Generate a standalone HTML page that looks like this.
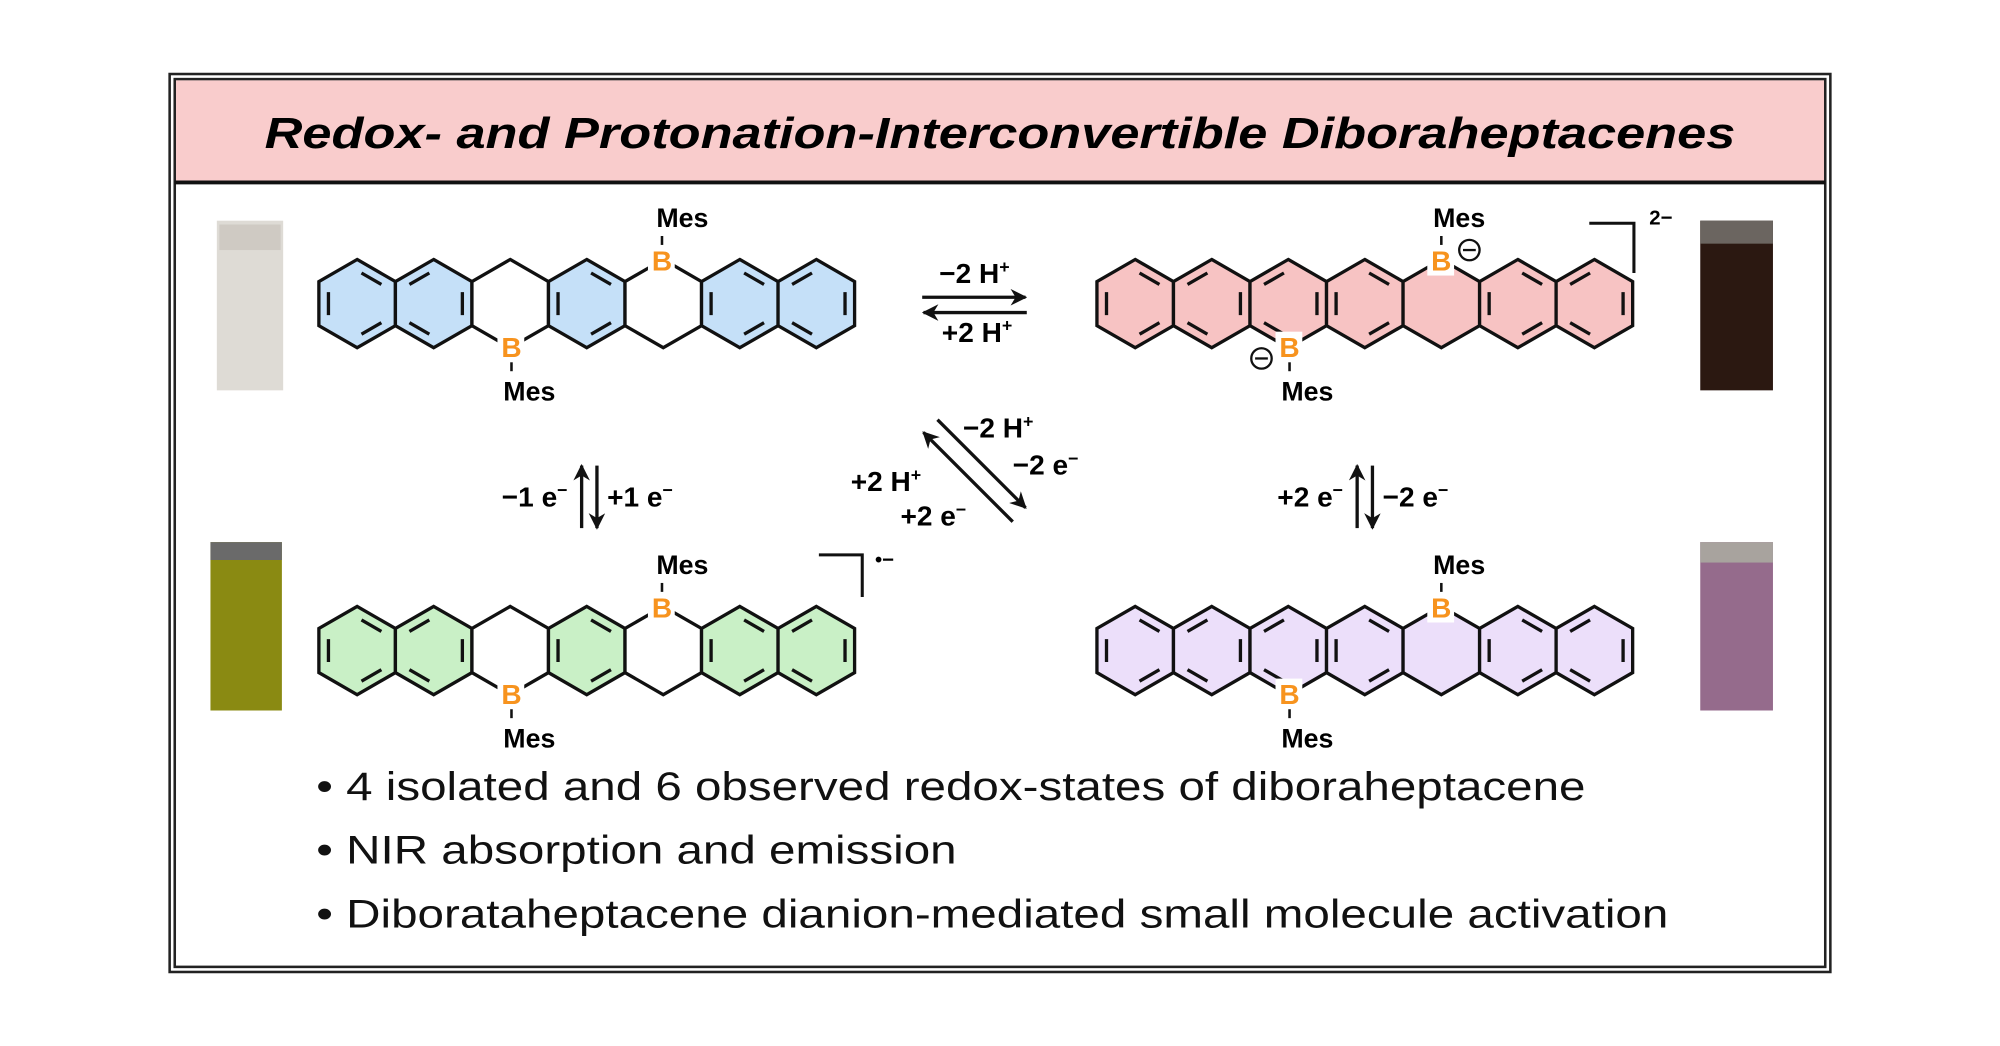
<!DOCTYPE html>
<html><head><meta charset="utf-8"><style>
html,body{margin:0;padding:0;background:#fff;width:2000px;height:1046px;overflow:hidden}
svg{display:block}
text{font-family:"Liberation Sans",Arial,sans-serif}
</style></head><body>
<svg width="2000" height="1046" viewBox="0 0 1568 820" xmlns="http://www.w3.org/2000/svg">
<defs>
<path id="h" d="M0,-34.6 L30,-17.3 L30,17.3 L0,34.6 L-30,17.3 L-30,-17.3Z" stroke="#111" stroke-width="2.6" stroke-linejoin="miter"/>
<path id="d" d="M3.4,-24 L19,-15 M19,15 L3.4,24 M-22.5,-9 L-22.5,9" stroke="#111" stroke-width="2.6" fill="none"/>
<path id="e" d="M-3.4,-24 L-19,-15 M-19,15 L-3.4,24 M22.5,-9 L22.5,9" stroke="#111" stroke-width="2.6" fill="none"/>
<marker id="ah" viewBox="0 0 10 10" refX="9" refY="5" markerWidth="5" markerHeight="5" orient="auto"><path d="M0,0 L10,5 L0,10 L3,5Z" fill="#111"/></marker>
</defs>
<!-- frame -->
<rect x="133" y="58" width="1302" height="704" fill="#fff" stroke="#222" stroke-width="2"/>
<rect x="137" y="62" width="1294" height="696" fill="none" stroke="#222" stroke-width="2"/>
<rect x="138" y="63" width="1292" height="80" fill="#f9cccc"/>
<line x1="137" y1="143" x2="1431" y2="143" stroke="#111" stroke-width="3"/>
<text x="784" y="116" text-anchor="middle" font-size="34" font-weight="bold" font-style="italic" textLength="1153" lengthAdjust="spacingAndGlyphs">Redox- and Protonation-Interconvertible Diboraheptacenes</text>

<!-- vials -->
<rect x="170" y="173" width="52" height="133" fill="#dedbd5"/>
<rect x="172" y="176" width="48" height="20" fill="#cfcac3"/>
<rect x="1333" y="173" width="57" height="133" fill="#2b1811"/>
<rect x="1333" y="173" width="57" height="18" fill="#6b6560"/>
<rect x="165" y="425" width="56" height="132" fill="#8a8a12"/>
<rect x="165" y="425" width="56" height="14" fill="#6a6a6a"/>
<rect x="1333" y="425" width="57" height="132" fill="#956b8c"/>
<rect x="1333" y="425" width="57" height="16" fill="#a8a39e"/>

<!-- blue molecule -->
<g fill="#c5e0f8">
<use href="#h" x="280" y="238"/><use href="#h" x="340" y="238"/><use href="#h" x="400" y="238" fill="#fff"/><use href="#h" x="460" y="238"/><use href="#h" x="520" y="238" fill="#fff"/><use href="#h" x="580" y="238"/><use href="#h" x="640" y="238"/>
</g>
<use href="#d" x="280" y="238"/><use href="#e" x="340" y="238"/><use href="#d" x="460" y="238"/><use href="#d" x="580" y="238"/><use href="#e" x="640" y="238"/>
<!-- green molecule -->
<g fill="#c9f0c6">
<use href="#h" x="280" y="510"/><use href="#h" x="340" y="510"/><use href="#h" x="400" y="510" fill="#fff"/><use href="#h" x="460" y="510"/><use href="#h" x="520" y="510" fill="#fff"/><use href="#h" x="580" y="510"/><use href="#h" x="640" y="510"/>
</g>
<use href="#d" x="280" y="510"/><use href="#e" x="340" y="510"/><use href="#d" x="460" y="510"/><use href="#d" x="580" y="510"/><use href="#e" x="640" y="510"/>
<!-- pink molecule -->
<g fill="#f7c3c3">
<use href="#h" x="890" y="238"/><use href="#h" x="950" y="238"/><use href="#h" x="1010" y="238"/><use href="#h" x="1070" y="238"/><use href="#h" x="1130" y="238"/><use href="#h" x="1190" y="238"/><use href="#h" x="1250" y="238"/>
</g>
<use href="#d" x="890" y="238"/><use href="#e" x="950" y="238"/><use href="#e" x="1010" y="238"/><use href="#d" x="1070" y="238"/><use href="#d" x="1190" y="238"/><use href="#e" x="1250" y="238"/>
<!-- purple molecule -->
<g fill="#ecdffa">
<use href="#h" x="890" y="510"/><use href="#h" x="950" y="510"/><use href="#h" x="1010" y="510"/><use href="#h" x="1070" y="510"/><use href="#h" x="1130" y="510"/><use href="#h" x="1190" y="510"/><use href="#h" x="1250" y="510"/>
</g>
<use href="#d" x="890" y="510"/><use href="#e" x="950" y="510"/><use href="#e" x="1010" y="510"/><use href="#d" x="1070" y="510"/><use href="#d" x="1190" y="510"/><use href="#e" x="1250" y="510"/>

<!-- B atoms and Mes -->
<g font-size="22" font-weight="bold">
<g fill="#f7931e" text-anchor="middle">
<rect x="508" y="192" width="21" height="24" fill="#fff"/><text x="519" y="212">B</text>
<rect x="390" y="260" width="21" height="24" fill="#fff"/><text x="401" y="280">B</text>
<rect x="508" y="464" width="21" height="24" fill="#fff"/><text x="519" y="484">B</text>
<rect x="390" y="532" width="21" height="24" fill="#fff"/><text x="401" y="552">B</text>
<rect x="1119" y="192" width="21" height="24" fill="#fff"/><text x="1130" y="212">B</text>
<rect x="1000" y="260" width="21" height="24" fill="#fff"/><text x="1011" y="280">B</text>
<rect x="1119" y="464" width="21" height="24" fill="#fff"/><text x="1130" y="484">B</text>
<rect x="1000" y="532" width="21" height="24" fill="#fff"/><text x="1011" y="552">B</text>
</g>
<g stroke="#111" stroke-width="2">
<line x1="519" y1="185" x2="519" y2="192"/><line x1="401" y1="284" x2="401" y2="291"/>
<line x1="519" y1="457" x2="519" y2="464"/><line x1="401" y1="556" x2="401" y2="563"/>
<line x1="1130" y1="185" x2="1130" y2="192"/><line x1="1011" y1="284" x2="1011" y2="291"/>
<line x1="1130" y1="457" x2="1130" y2="464"/><line x1="1011" y1="556" x2="1011" y2="563"/>
</g>
<g text-anchor="middle" font-size="21">
<text x="535" y="178">Mes</text><text x="415" y="314">Mes</text>
<text x="535" y="450">Mes</text><text x="415" y="586">Mes</text>
<text x="1144" y="178">Mes</text><text x="1025" y="314">Mes</text>
<text x="1144" y="450">Mes</text><text x="1025" y="586">Mes</text>
</g>
</g>
<!-- minus circles -->
<g stroke="#111" stroke-width="1.8" fill="#fff">
<circle cx="1152" cy="196" r="8"/><line x1="1147" y1="196" x2="1157" y2="196"/>
<circle cx="989" cy="281" r="8"/><line x1="984" y1="281" x2="994" y2="281"/>
</g>
<!-- brackets -->
<path d="M1246,175 L1281,175 L1281,214" fill="none" stroke="#111" stroke-width="2.4"/>
<text x="1293" y="176" font-size="16" font-weight="bold">2−</text>
<path d="M642,435 L676,435 L676,468" fill="none" stroke="#111" stroke-width="2.4"/>
<text x="686" y="444" font-size="16" font-weight="bold">•−</text>

<!-- arrows -->
<g stroke="#111" stroke-width="2.6" fill="none">
<line x1="723" y1="233" x2="804" y2="233" marker-end="url(#ah)"/>
<line x1="805" y1="245" x2="724" y2="245" marker-end="url(#ah)"/>
<line x1="456" y1="414" x2="456" y2="365" marker-end="url(#ah)"/>
<line x1="468" y1="365" x2="468" y2="414" marker-end="url(#ah)"/>
<line x1="1064" y1="414" x2="1064" y2="365" marker-end="url(#ah)"/>
<line x1="1076" y1="365" x2="1076" y2="414" marker-end="url(#ah)"/>
<line x1="735" y1="329" x2="804" y2="398" marker-end="url(#ah)"/>
<line x1="794" y1="409" x2="724" y2="339" marker-end="url(#ah)"/>
</g>
<g font-size="22" font-weight="bold">
<text x="764" y="222" text-anchor="middle">−2 H<tspan dy="-8" font-size="14">+</tspan></text>
<text x="766" y="268" text-anchor="middle">+2 H<tspan dy="-8" font-size="14">+</tspan></text>
<text x="445" y="397" text-anchor="end">−1 e<tspan dy="-8" font-size="14">−</tspan></text>
<text x="476" y="397">+1 e<tspan dy="-8" font-size="14">−</tspan></text>
<text x="1053" y="397" text-anchor="end">+2 e<tspan dy="-8" font-size="14">−</tspan></text>
<text x="1084" y="397">−2 e<tspan dy="-8" font-size="14">−</tspan></text>
<text x="755" y="343">−2 H<tspan dy="-8" font-size="14">+</tspan></text>
<text x="794" y="372">−2 e<tspan dy="-8" font-size="14">−</tspan></text>
<text x="667" y="385">+2 H<tspan dy="-8" font-size="14">+</tspan></text>
<text x="706" y="412">+2 e<tspan dy="-8" font-size="14">−</tspan></text>
</g>

<!-- bullets -->
<g font-size="31" fill="#111">
<text x="248" y="627" textLength="995" lengthAdjust="spacingAndGlyphs">• 4 isolated and 6 observed redox-states of diboraheptacene</text>
<text x="248" y="677" textLength="502" lengthAdjust="spacingAndGlyphs">• NIR absorption and emission</text>
<text x="248" y="727" textLength="1060" lengthAdjust="spacingAndGlyphs">• Diborataheptacene dianion-mediated small molecule activation</text>
</g>
</svg>
</body></html>
